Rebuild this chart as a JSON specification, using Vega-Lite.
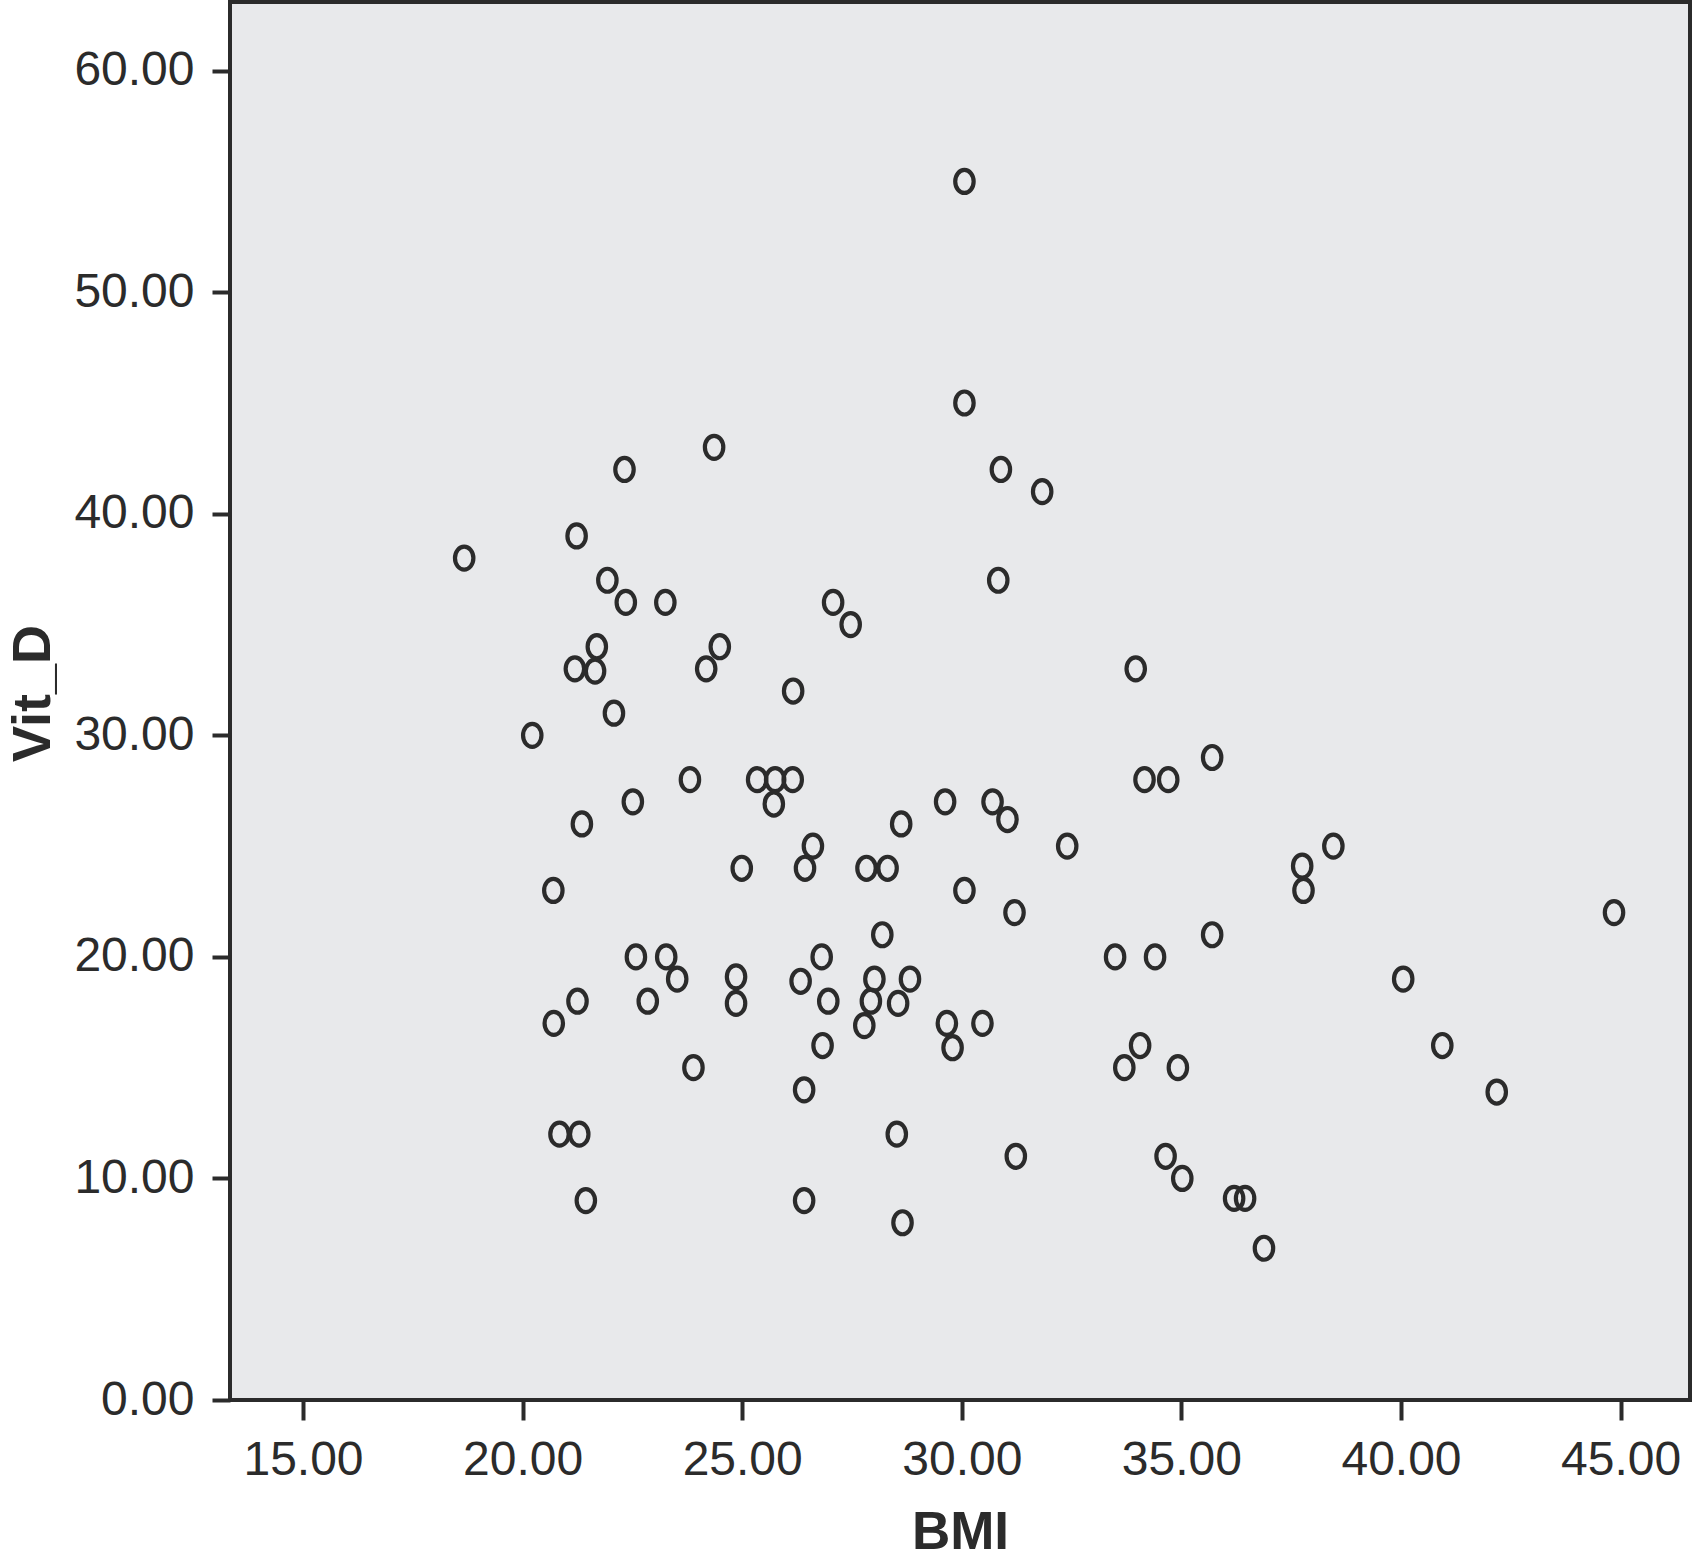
{
  "$schema": "https://vega.github.io/schema/vega-lite/v6.json",
  "autosize": "none",
  "width": 1460,
  "height": 1398,
  "padding": {"left": 230, "top": 2, "right": 2, "bottom": 162},
  "background": "white",
  "config": {
    "view": {"fill": "#e8e9eb", "stroke": "#2b2b2b", "strokeWidth": 4},
    "font": "Liberation Sans"
  },
  "data": {
    "values": [
      {"BMI": 18.67, "Vit_D": 38},
      {"BMI": 30.06, "Vit_D": 55},
      {"BMI": 30.06, "Vit_D": 45},
      {"BMI": 24.36, "Vit_D": 43},
      {"BMI": 22.32, "Vit_D": 42},
      {"BMI": 30.89, "Vit_D": 42},
      {"BMI": 31.83, "Vit_D": 41},
      {"BMI": 21.23, "Vit_D": 39},
      {"BMI": 21.93, "Vit_D": 37},
      {"BMI": 30.83, "Vit_D": 37},
      {"BMI": 22.35, "Vit_D": 36},
      {"BMI": 23.25, "Vit_D": 36},
      {"BMI": 27.07, "Vit_D": 36},
      {"BMI": 27.47, "Vit_D": 35},
      {"BMI": 21.69, "Vit_D": 34},
      {"BMI": 24.49, "Vit_D": 34},
      {"BMI": 21.19, "Vit_D": 33},
      {"BMI": 21.65, "Vit_D": 32.9},
      {"BMI": 24.18, "Vit_D": 33},
      {"BMI": 33.96, "Vit_D": 33},
      {"BMI": 26.16, "Vit_D": 32},
      {"BMI": 22.08, "Vit_D": 31},
      {"BMI": 20.22, "Vit_D": 30},
      {"BMI": 35.7, "Vit_D": 29},
      {"BMI": 23.81, "Vit_D": 28},
      {"BMI": 25.34, "Vit_D": 28},
      {"BMI": 25.75, "Vit_D": 28},
      {"BMI": 26.15, "Vit_D": 28},
      {"BMI": 34.16, "Vit_D": 28},
      {"BMI": 34.7, "Vit_D": 28},
      {"BMI": 25.72, "Vit_D": 26.9},
      {"BMI": 22.51, "Vit_D": 27},
      {"BMI": 29.62, "Vit_D": 27},
      {"BMI": 30.7, "Vit_D": 27},
      {"BMI": 21.35, "Vit_D": 26},
      {"BMI": 28.62, "Vit_D": 26},
      {"BMI": 31.04, "Vit_D": 26.2},
      {"BMI": 26.61, "Vit_D": 25},
      {"BMI": 32.4, "Vit_D": 25},
      {"BMI": 38.46, "Vit_D": 25},
      {"BMI": 24.99, "Vit_D": 24},
      {"BMI": 26.43, "Vit_D": 24},
      {"BMI": 27.83, "Vit_D": 24},
      {"BMI": 28.31, "Vit_D": 24},
      {"BMI": 37.75, "Vit_D": 24.1},
      {"BMI": 20.7, "Vit_D": 23},
      {"BMI": 30.06, "Vit_D": 23},
      {"BMI": 37.78, "Vit_D": 23},
      {"BMI": 31.2, "Vit_D": 22},
      {"BMI": 44.85, "Vit_D": 22},
      {"BMI": 28.19, "Vit_D": 21},
      {"BMI": 35.7, "Vit_D": 21},
      {"BMI": 22.58, "Vit_D": 20},
      {"BMI": 23.27, "Vit_D": 20},
      {"BMI": 26.81, "Vit_D": 20},
      {"BMI": 33.49, "Vit_D": 20},
      {"BMI": 34.4, "Vit_D": 20},
      {"BMI": 23.52, "Vit_D": 19},
      {"BMI": 24.86, "Vit_D": 19.1},
      {"BMI": 26.33, "Vit_D": 18.9},
      {"BMI": 28.01, "Vit_D": 19},
      {"BMI": 28.82, "Vit_D": 19},
      {"BMI": 40.05, "Vit_D": 19},
      {"BMI": 21.25, "Vit_D": 18},
      {"BMI": 22.85, "Vit_D": 18},
      {"BMI": 24.86, "Vit_D": 17.9},
      {"BMI": 26.96, "Vit_D": 18},
      {"BMI": 27.93, "Vit_D": 18},
      {"BMI": 28.55, "Vit_D": 17.9},
      {"BMI": 20.71, "Vit_D": 17},
      {"BMI": 27.78, "Vit_D": 16.9},
      {"BMI": 29.66, "Vit_D": 17},
      {"BMI": 30.47, "Vit_D": 17},
      {"BMI": 26.83, "Vit_D": 16},
      {"BMI": 29.79, "Vit_D": 15.9},
      {"BMI": 34.06, "Vit_D": 16},
      {"BMI": 40.94, "Vit_D": 16},
      {"BMI": 23.89, "Vit_D": 15},
      {"BMI": 33.7, "Vit_D": 15},
      {"BMI": 34.92, "Vit_D": 15},
      {"BMI": 26.41, "Vit_D": 14},
      {"BMI": 42.18, "Vit_D": 13.9},
      {"BMI": 20.84, "Vit_D": 12},
      {"BMI": 21.29, "Vit_D": 12},
      {"BMI": 28.52, "Vit_D": 12},
      {"BMI": 31.23, "Vit_D": 11},
      {"BMI": 34.64, "Vit_D": 11},
      {"BMI": 35.02, "Vit_D": 10},
      {"BMI": 21.44, "Vit_D": 9},
      {"BMI": 26.41, "Vit_D": 9},
      {"BMI": 36.2, "Vit_D": 9.1},
      {"BMI": 36.45, "Vit_D": 9.1},
      {"BMI": 28.65, "Vit_D": 8},
      {"BMI": 36.88, "Vit_D": 6.85}
    ]
  },
  "mark": {
    "type": "point",
    "shape": "M0,-1A0.8,1,0,1,1,0,1A0.8,1,0,1,1,0,-1Z",
    "filled": false,
    "size": 530,
    "stroke": "#2b2b2b",
    "strokeWidth": 4.2,
    "opacity": 1
  },
  "encoding": {
    "x": {
      "field": "BMI",
      "type": "quantitative",
      "scale": {"domain": [13.338, 46.58], "nice": false, "zero": false},
      "axis": {
        "title": "BMI",
        "values": [15, 20, 25, 30, 35, 40, 45],
        "format": ".2f",
        "grid": false,
        "domain": false,
        "tickSize": 20,
        "tickWidth": 4,
        "tickColor": "#2b2b2b",
        "labelPadding": 16,
        "labelFont": "Liberation Sans",
        "labelFontSize": 48,
        "labelColor": "#2b2b2b",
        "labelFlush": false,
        "labelOverlap": false,
        "titleFont": "Liberation Sans",
        "titleFontSize": 53,
        "titleFontWeight": "bold",
        "titleColor": "#2b2b2b",
        "titleBaseline": "alphabetic",
        "titleY": 148
      }
    },
    "y": {
      "field": "Vit_D",
      "type": "quantitative",
      "scale": {"domain": [0, 63.1], "nice": false, "zero": false},
      "axis": {
        "title": "Vit_D",
        "values": [0, 10, 20, 30, 40, 50, 60],
        "format": ".2f",
        "grid": false,
        "domain": false,
        "tickSize": 18,
        "tickWidth": 4,
        "tickColor": "#2b2b2b",
        "labelPadding": 18,
        "labelFont": "Liberation Sans",
        "labelFontSize": 48,
        "labelColor": "#2b2b2b",
        "labelFlush": false,
        "labelOverlap": false,
        "titleFont": "Liberation Sans",
        "titleFontSize": 54,
        "titleFontWeight": "bold",
        "titleColor": "#2b2b2b",
        "titleBaseline": "alphabetic",
        "titleAngle": 270,
        "titleX": -181,
        "titleY": 691
      }
    }
  }
}
